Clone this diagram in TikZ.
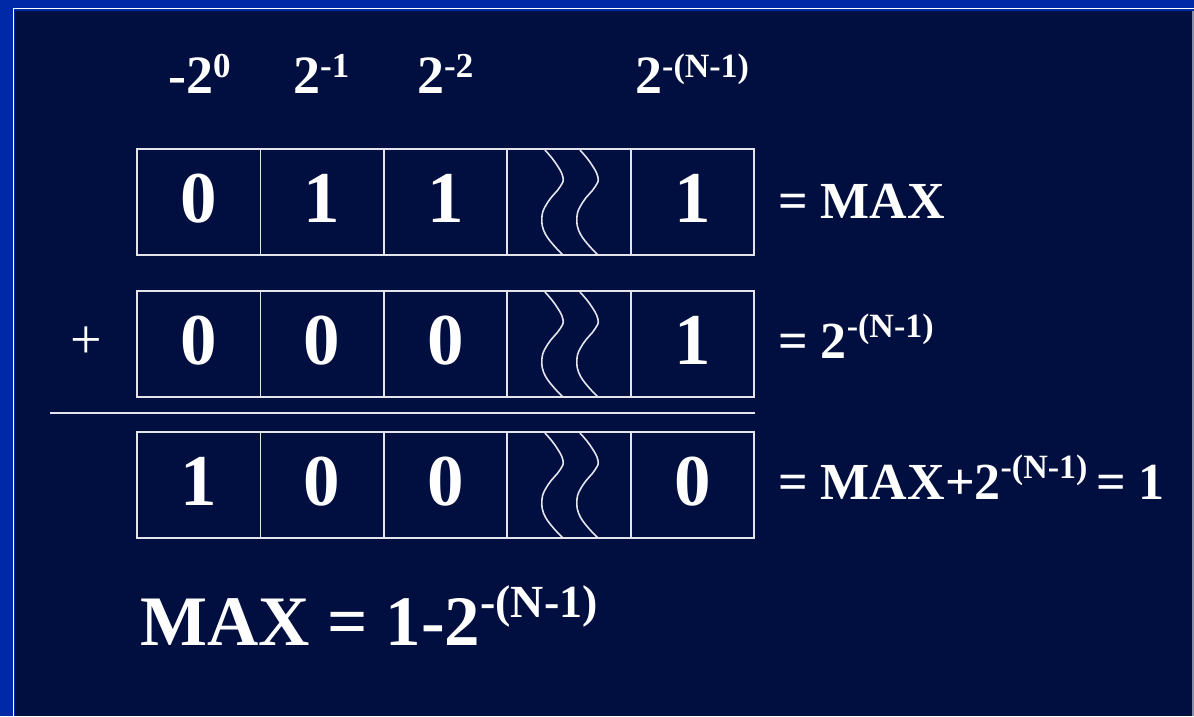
\documentclass[tikz,border=0pt]{standalone}
\usepackage{fontspec}
\setmainfont{Liberation Serif}
\definecolor{navy}{RGB}{0,15,63}
\definecolor{frameblue}{RGB}{0,41,168}
\definecolor{linec}{RGB}{228,228,236}
\newcommand\fsz[1]{\fontsize{#1}{#1}\selectfont}
\newcommand\myup[3]{\raisebox{#1}{\fsz{#2}#3}}
\begin{document}
\begin{tikzpicture}[x=1pt,y=-1pt,
  cell/.style={draw=linec, line width=1.8pt, minimum width=123.4pt, minimum height=106pt,
    inner sep=0pt},
  digit/.style={anchor=base, inner sep=0pt, text=white, font=\fsz{73}\bfseries},
  lbl/.style={anchor=base west, inner sep=0pt, text=white, font=\fsz{52}\bfseries},
  toplbl/.style={anchor=base west, inner sep=0pt, text=white, font=\fsz{54}\bfseries},
  wave/.style={draw=linec, line width=1.6pt},
  rule/.style={draw=linec, line width=2.4pt}]
\useasboundingbox (0,0) rectangle (1194,716);
% background and frame
\fill[frameblue] (0,0) rectangle (1194,716);
\fill[navy] (15,11) rectangle (1192,716);
\draw[white, line width=1.6pt] (13.5,716) -- (13.5,8.5) -- (1194,8.5);
\draw[linec!60!navy, line width=1.2pt] (1193,11) -- (1193,716);
% top weights
\node[toplbl] (w0) at (168,93) {-2\myup{16pt}{35}{0}};
\node[toplbl] (w1) at (293,93) {2\myup{16pt}{35}{-1}};
\node[toplbl] (w2) at (417,93) {2\myup{16pt}{35}{-2}};
\node[toplbl] (w3) at (635,93) {2\myup{16pt}{34}{-(N-1)}};
% rows of cells
\foreach \r/\cy/\a/\b/\c/\d in {1/202/0/1/1/1, 2/344/0/0/0/1, 3/485/1/0/0/0}{
  \node[cell] (r\r c0) at (198.7,\cy) {};
  \node[cell] (r\r c1) at (322.1,\cy) {};
  \node[cell] (r\r c2) at (445.5,\cy) {};
  \node[cell] (r\r c3) at (568.9,\cy) {};
  \node[cell] (r\r c4) at (692.3,\cy) {};
  \node[digit] (r\r d0) at ([yshift=-20pt]r\r c0.center) {\a};
  \node[digit] (r\r d1) at ([yshift=-20pt]r\r c1.center) {\b};
  \node[digit] (r\r d2) at ([yshift=-20pt]r\r c2.center) {\c};
  \node[digit] (r\r d4) at ([yshift=-20pt]r\r c4.center) {\d};
  \begin{scope}[shift={(r\r c3.center)}]
    \foreach \dx in {0,35}{
      \draw[wave, xshift=\dx pt] plot[smooth, tension=0.7] coordinates
        {(-24,-52) (-14,-40) (-6,-25) (-9,-15) (-21,0) (-27,15) (-23,33) (-6,53)};
    }
  \end{scope}
}
% plus sign and rule
\node[text=white, font=\fsz{56}, inner sep=0pt] (plus) at (86,343) {+};
\coordinate (ruleL) at (50,413);
\draw[rule] (ruleL) -- (ruleL -| r2c4.east);
% right-hand labels
\node[lbl] (eq1) at (778,218) {= MAX};
\node[lbl] (eq2) at (778,358) {= 2\myup{21pt}{34}{-(N-1)}};
\node[lbl] (eq3) at (778,499) {= MAX+2\myup{21pt}{34}{-(N-1)}\,= 1};
% bottom formula
\node[anchor=base west, inner sep=0pt, text=white, font=\fsz{71}\bfseries] (res) at (140,645)
  {MAX = 1-2\myup{28pt}{46}{-(N-1)}};
\end{tikzpicture}
\end{document}
